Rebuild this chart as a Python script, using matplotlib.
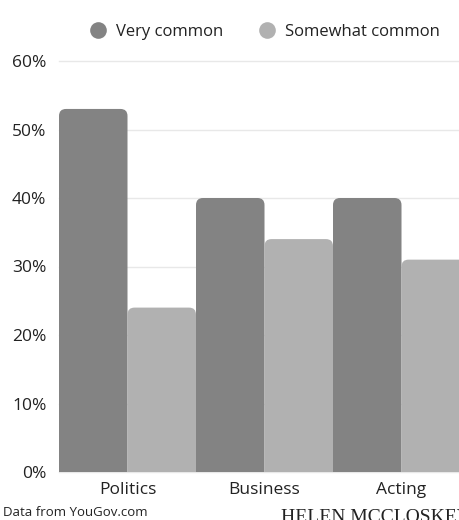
import numpy as np
import matplotlib
matplotlib.use("Agg")
import matplotlib.pyplot as plt
from matplotlib.patches import FancyBboxPatch
from matplotlib.lines import Line2D

categories = ["Politics", "Business", "Acting"]
very_common = [53, 40, 40]
somewhat_common = [24, 34, 31]
series_names = ["Very common", "Somewhat common"]
y_ticks = [0, 10, 20, 30, 40, 50, 60]

dark = "#838383"
light = "#b1b1b1"

plt.rcParams['font.family'] = ['Open Sans', 'DejaVu Sans']

fig = plt.figure(figsize=(4.6, 5.2), dpi=100)
ax = fig.add_axes([59 / 460, 48 / 520, 411 / 460, 411 / 520])

bar_w = 0.5
x = np.arange(len(categories))
ax.set_xlim(-0.5, 2.5)
ax.set_ylim(0, 60)

# rounded top corners, radius ~7 px
r_x = 7 / 137
aspect = 137 / (411 / 60)


def rounded_bar(ax, x0, h, color):
    p = FancyBboxPatch((x0, -5), bar_w, h + 5,
                       boxstyle=f"round,pad=0,rounding_size={r_x}",
                       mutation_aspect=aspect, fc=color, ec="none", zorder=3)
    ax.add_patch(p)


for i in range(len(categories)):
    rounded_bar(ax, x[i] - bar_w, very_common[i], dark)
    rounded_bar(ax, x[i], somewhat_common[i], light)

ax.set_yticks(y_ticks)
ax.set_yticklabels([f"{v}%" for v in y_ticks], fontsize=12.5, color="#222222")
ax.set_xticks(x)
ax.set_xticklabels(categories, fontsize=12.5, color="#222222")
ax.tick_params(axis='y', length=0, pad=9)
ax.tick_params(axis='x', length=0, pad=7)
ax.grid(axis='y', color="#e8e8e8", linewidth=1, zorder=0)
ax.set_axisbelow(True)
for s in ax.spines.values():
    s.set_visible(False)
for gl in ax.get_ygridlines():
    gl.set_clip_on(False)

handles = [Line2D([], [], marker='o', linestyle='none', markersize=12,
                  markerfacecolor=c, markeredgecolor='none') for c in (dark, light)]
fig.legend(handles, series_names, loc='center', bbox_to_anchor=(0.566, 0.938),
           ncol=2, frameon=False, fontsize=12, handletextpad=0.1,
           columnspacing=1.6, labelcolor="#222222")

fig.text(3 / 460, 1 / 520, "Data from YouGov.com", fontsize=9.5, color="#222222",
         ha='left', va='bottom')
fig.text(281 / 460, -6 / 520, "HELEN MCCLOSKEY", fontsize=14,
         family=['Liberation Serif', 'DejaVu Serif'], color="#222222",
         ha='left', va='bottom')

fig.savefig("out.png", dpi=100, facecolor="white")
